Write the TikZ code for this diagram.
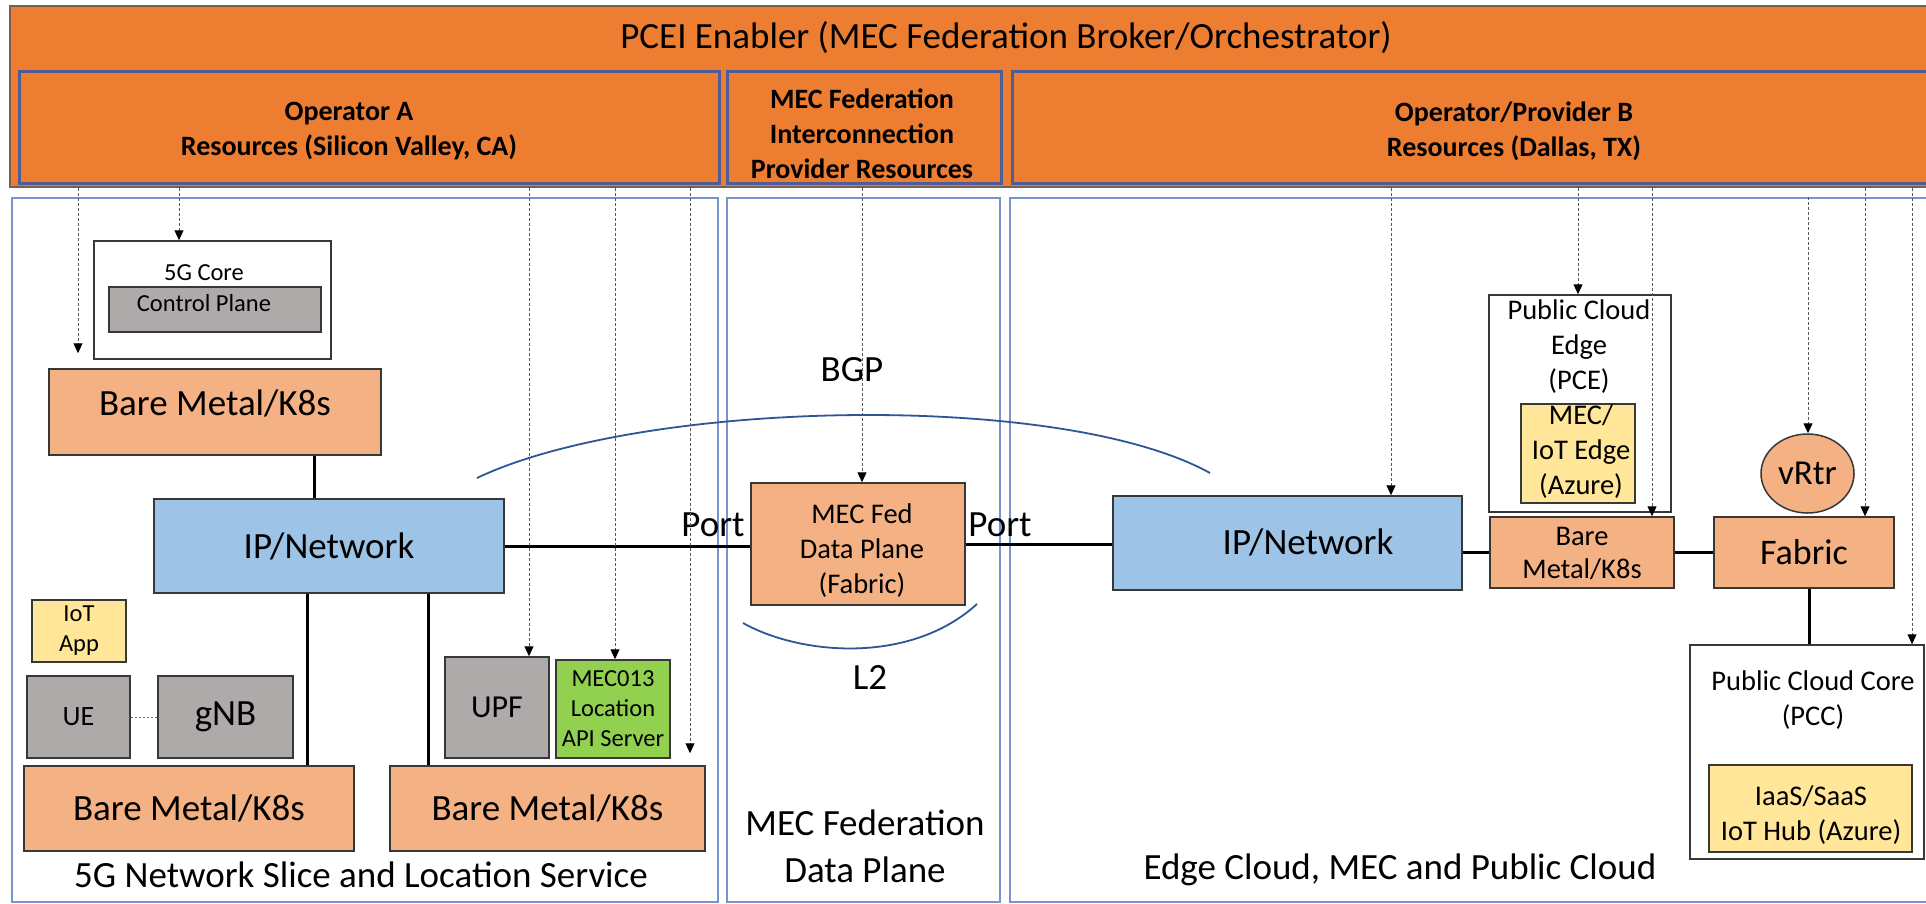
\documentclass[tikz,border=0pt]{standalone}
\usepackage{fontspec}
\setmainfont{Carlito}
\usetikzlibrary{arrows.meta,shapes.geometric}
\definecolor{hdrorange}{HTML}{ED7D31}
\definecolor{salmon}{HTML}{F4B183}
\definecolor{ipblue}{HTML}{9DC3E6}
\definecolor{greybox}{HTML}{AEAAAA}
\definecolor{yelbox}{HTML}{FFE699}
\definecolor{grnbox}{HTML}{92D050}
\definecolor{hdrline}{RGB}{80,92,150}
\definecolor{panelline}{RGB}{120,148,208}
\definecolor{arcblue}{RGB}{47,85,151}
\definecolor{outline}{RGB}{120,95,80}
\newcommand\fsz[2]{\fontsize{#1pt}{#2pt}\selectfont}
\tikzset{
  bx/.style={draw=black!78, line width=1.5pt, inner sep=0pt, align=center},
  hdr/.style={draw=hdrline, line width=3pt, fill=hdrorange, inner sep=0pt},
  panel/.style={draw=panelline, line width=1.8pt, fill=white, inner sep=0pt},
  conn/.style={draw=black, line width=3pt},
  ctrl/.style={draw=black!65, line width=1pt, dash pattern=on 3pt off 2pt, -{Triangle[length=10pt,width=9pt,color=black]}},
  blink/.style={draw=arcblue, line width=1.8pt},
  lbl/.style={inner sep=0pt, align=center},
  big/.style={font=\fsz{37}{47}},
  mid/.style={font=\fsz{28.5}{35}},
  small/.style={font=\fsz{24.5}{30}},
  hb/.style={font=\bfseries\fsz{28}{35}},
}
\begin{document}
\begin{tikzpicture}[x=1pt,y=-1pt]
\useasboundingbox (0,0) rectangle (1926,903);
\clip (0,0) rectangle (1926,903);
% ---------- header ----------
\node[draw=outline, line width=1.5pt, fill=hdrorange, minimum width=1930pt, minimum height=181pt, inner sep=0pt] (pcei) at (975,96.5) {};
\node[lbl, font=\fsz{37}{44}] (title) at (1006,38) {PCEI Enabler (MEC Federation Broker/Orchestrator)};
\node[hdr, minimum width=700pt, minimum height=112pt] (opA) at (369,127) {};
\node[hdr, minimum width=274pt, minimum height=112pt] (mecR) at (864,127) {};
\node[hdr, minimum width=1002pt, minimum height=112pt] (opB) at (1513,127) {};
\node[lbl, hb] (opAT) at (349,131) {Operator A\\Resources (Silicon Valley, CA)};
\node[lbl, hb] (mecRT) at (862,134) {MEC Federation\\Interconnection\\Provider Resources};
\node[lbl, hb] (opBT) at (1514,131) {Operator/Provider B\\Resources (Dallas, TX)};
% ---------- panels ----------
\node[panel, minimum width=706pt, minimum height=704pt] (pL) at (365,550) {};
\node[panel, minimum width=273pt, minimum height=704pt] (pM) at (863.5,550) {};
\node[panel, minimum width=930pt, minimum height=704pt] (pR) at (1475,550) {};
% ---------- arcs ----------
\coordinate (bgpA) at (477,478);
\coordinate (bgpB) at (1210,473);
\draw[blink] (bgpA) .. controls (640,400) and (1060,390) .. (bgpB);
\coordinate (l2A) at (743,623);
\coordinate (l2B) at (977,604);
\draw[blink] (l2A) .. controls (800,655) and (910,665) .. (l2B);
% ---------- left panel ----------
\node[bx, fill=white, minimum width=237pt, minimum height=118pt] (core5g) at (212.5,300) {};
\node[lbl, small] (core5gT) at (204,273) {5G Core};
\node[bx, fill=greybox, minimum width=212pt, minimum height=45pt] (cp) at (215,309.5) {};
\node[lbl, small] (cpT) at (204,303) {Control Plane};
\node[bx, fill=salmon, minimum width=332pt, minimum height=86pt] (bm1) at (215,412) {};
\node[lbl, big] (bm1T) at (215,403) {Bare Metal/K8s};
\node[bx, fill=ipblue, minimum width=350pt, minimum height=94pt, big] (ip1) at (329,546) {IP/Network};
\node[bx, fill=yelbox, minimum width=94pt, minimum height=62pt, small] (iot) at (79,631) {IoT\\App};
\node[bx, fill=greybox, minimum width=103pt, minimum height=82pt, font=\fsz{28}{34}] (ue) at (78.5,717) {UE};
\node[bx, fill=greybox, minimum width=135pt, minimum height=82pt, font=\fsz{37}{44}] (gnb) at (225.5,717) {gNB};
\node[bx, fill=greybox, minimum width=104pt, minimum height=101pt, font=\fsz{32}{38}] (upf) at (497,707.5) {UPF};
\node[bx, fill=grnbox, minimum width=114pt, minimum height=98pt, small] (mec013) at (613,709) {MEC013\\Location\\API Server};
\node[bx, fill=salmon, minimum width=330pt, minimum height=85pt, big] (bm2) at (189,808.5) {Bare Metal/K8s};
\node[bx, fill=salmon, minimum width=315pt, minimum height=85pt, big] (bm3) at (547.5,808.5) {Bare Metal/K8s};
\node[lbl, big] (sliceT) at (361,875) {5G Network Slice and Location Service};
% ---------- middle panel ----------
\node[bx, fill=salmon, minimum width=214pt, minimum height=122pt] (mecfed) at (858,544) {};
\node[lbl, mid] (mecfedT) at (862,551) {MEC Fed\\Data Plane\\(Fabric)};
\node[lbl, big] (bgpT) at (852,370) {BGP};
\node[lbl, big] (l2T) at (870,677) {L2};
\node[lbl, big] (mfdpT) at (865,846) {MEC Federation\\Data Plane};
\node[lbl, big] (port1) at (713,525) {Port};
\node[lbl, big] (port2) at (1000,525) {Port};
% ---------- right panel ----------
\node[bx, fill=ipblue, minimum width=349pt, minimum height=94pt] (ip2) at (1287.5,543) {};
\node[lbl, big] (ip2T) at (1308,542) {IP/Network};
\node[bx, fill=white, minimum width=182pt, minimum height=217pt] (pce) at (1580,403.5) {};
\node[lbl, mid] (pceT) at (1579,347) {Public Cloud\\Edge\\(PCE)};
\node[bx, fill=yelbox, minimum width=114pt, minimum height=99pt] (mecedge) at (1578,453.5) {};
\node[lbl, mid] (mecedgeT) at (1581,452) {MEC/\\IoT Edge\\(Azure)};
\node[bx, fill=salmon, minimum width=184pt, minimum height=71pt] (bm4) at (1582,552.5) {};
\node[lbl, font=\fsz{28.5}{33}] (bm4T) at (1582,553) {Bare\\Metal/K8s};
\node[bx, fill=salmon, minimum width=180pt, minimum height=71pt, font=\fsz{36}{42}] (fabric) at (1804,552.5) {Fabric};
\node[bx, ellipse, fill=salmon, minimum width=93pt, minimum height=79pt, font=\fsz{35}{42}] (vrtr) at (1807.5,473.5) {vRtr};
\node[bx, fill=white, minimum width=234pt, minimum height=214pt] (pcc) at (1807,752) {};
\node[lbl, mid] (pccT) at (1813,700) {Public Cloud Core\\(PCC)};
\node[bx, fill=yelbox, minimum width=203pt, minimum height=87pt] (iaas) at (1810.5,808.5) {};
\node[lbl, mid] (iaasT) at (1811,815.5) {IaaS/SaaS\\IoT Hub (Azure)};
\node[lbl, big] (edgeT) at (1400,870) {Edge Cloud, MEC and Public Cloud};
% ---------- connectors ----------
\coordinate (xa) at (314,0);
\draw[conn] (bm1.south -| xa) -- (ip1.north -| xa);
\coordinate (xb) at (307,0);
\draw[conn] (ip1.south -| xb) -- (bm2.north -| xb);
\coordinate (xc) at (428,0);
\draw[conn] (ip1.south -| xc) -- (bm3.north -| xc);
\draw[conn] (ip1.east) -- (ip1.east -| mecfed.west);
\draw[conn] (mecfed.east) -- (mecfed.east -| ip2.west);
\draw[conn] (bm4.west -| ip2.east) -- (bm4.west);
\draw[conn] (bm4.east) -- (bm4.east -| fabric.west);
\coordinate (xf) at (1809,0);
\draw[conn] (fabric.south -| xf) -- (pcc.north -| xf);
\draw[draw=black!60, line width=1pt, dash pattern=on 2pt off 2pt] (ue.east) -- (gnb.west);
% ---------- control (dashed) arrows ----------
\coordinate (d1) at (78,0);
\coordinate (d2) at (179,0);
\coordinate (d3) at (529,0);
\coordinate (d4) at (615,0);
\coordinate (d5) at (690,0);
\coordinate (d6) at (862,0);
\coordinate (d7) at (1391,0);
\coordinate (d8) at (1578,0);
\coordinate (d9) at (1652,0);
\coordinate (d10) at (1808,0);
\coordinate (d11) at (1865,0);
\coordinate (d12) at (1912,0);
\draw[ctrl, shorten >=15pt] (pcei.south -| d1) -- (bm1.north -| d1);
\draw[ctrl] (pcei.south -| d2) -- (core5g.north -| d2);
\draw[ctrl] (pcei.south -| d3) -- (upf.north -| d3);
\draw[ctrl] (pcei.south -| d4) -- (mec013.north -| d4);
\draw[ctrl, shorten >=12pt] (pcei.south -| d5) -- (bm3.north -| d5);
\draw[ctrl] (pcei.south -| d6) -- (mecfed.north -| d6);
\draw[ctrl] (pcei.south -| d7) -- (ip2.north -| d7);
\draw[ctrl] (pcei.south -| d8) -- (pce.north -| d8);
\draw[ctrl] (pcei.south -| d9) -- (bm4.north -| d9);
\draw[ctrl] (pR.north -| d10) -- (vrtr.north -| d10);
\draw[ctrl] (pcei.south -| d11) -- (fabric.north -| d11);
\draw[ctrl] (pcei.south -| d12) -- (pcc.north -| d12);
\end{tikzpicture}
\end{document}
